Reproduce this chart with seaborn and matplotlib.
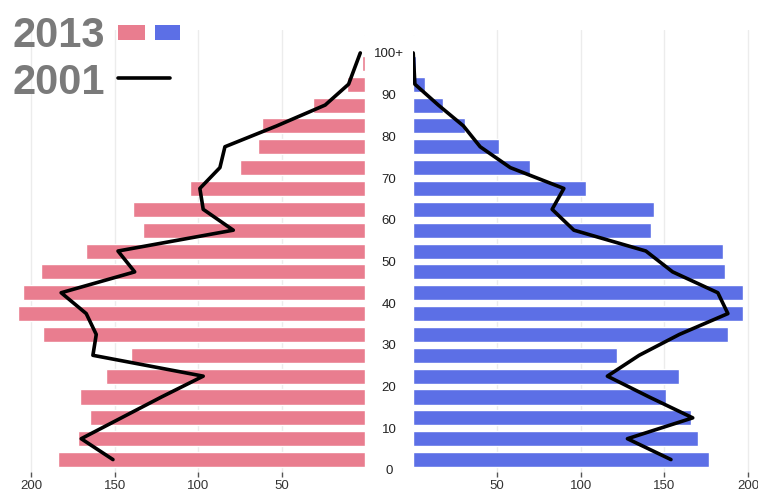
import matplotlib
matplotlib.use("Agg")
import matplotlib.pyplot as plt
from matplotlib.patches import Rectangle
from matplotlib.lines import Line2D
import seaborn as sns
import pandas as pd

# ---- data ----
age_groups = list(range(0, 101, 5))                      # 0-4 ... 100+
age_labels = ["0", "10", "20", "30", "40", "50", "60", "70", "80", "90", "100+"]
age_ticks = list(range(0, 101, 10))
female_2013 = [184, 172, 165, 171, 155, 140, 193, 208, 205, 194, 167,
               133, 139, 105, 75, 64, 62, 31, 11, 2, 1]
male_2013 = [177, 170, 166, 151, 159, 122, 188, 197, 197, 186, 185,
             142, 144, 103, 70, 51, 31, 18, 7, 1.5, 0.5]
line_ages = [2.5, 7.5, 12.5, 17.5, 22.5, 27.5, 32.5, 37.5, 42.5, 47.5,
             52.5, 57.5, 62.5, 67.5, 72.5, 77.5, 82.5, 87.5, 92.5, 100]
female_2001 = [151, 170, 146, 122, 97, 163, 161, 167, 182, 138, 148,
               79, 97, 99, 87, 84, 53, 24, 10, 3]
male_2001 = [154, 128, 167, 141, 116, 135, 159, 188, 182, 155, 139,
             96, 83, 90, 58, 40, 30, 15, 1, 0]
legend_years = ["2013", "2001"]

PINK = "#E97D8F"
BLUE = "#5C6FE6"

sns.set_style("white")
plt.rcParams["font.family"] = ["Liberation Sans", "DejaVu Sans"]

fig = plt.figure(figsize=(7.58, 4.93), dpi=100)
bottom, height = 0.0426, 0.8966
ax_l = fig.add_axes([0.0, bottom, 365.3 / 758, height])
ax_r = fig.add_axes([413.2 / 758, bottom, 1 - 413.2 / 758, height])

mids = [a + 2.5 for a in age_groups]
df = pd.DataFrame({"age": mids, "female": female_2013, "male": male_2013})
dl = pd.DataFrame({"age": line_ages, "female": female_2001, "male": male_2001})

for ax, col, color in [(ax_l, "female", PINK), (ax_r, "male", BLUE)]:
    sns.barplot(data=df, x=col, y="age", orient="h", native_scale=True,
                width=0.72, color=color, saturation=1, ax=ax, zorder=2)
    sns.lineplot(data=dl, x=col, y="age", sort=False, orient="y",
                 color="black", linewidth=2.6, ax=ax, zorder=3)
    ax.set_ylim(-0.48, 105.5)
    ax.set_xticks([50, 100, 150, 200])
    ax.set_xticklabels(["50", "100", "150", "200"])
    ax.grid(axis="x", color="#ececec", linewidth=1, zorder=0)
    ax.set_axisbelow(True)
    for s in ax.spines.values():
        s.set_visible(False)
    ax.set_xlabel("")
    ax.set_ylabel("")
    ax.tick_params(axis="x", bottom=True, length=3.6, width=1, color="#555555",
                   labelsize=9.5, labelcolor="#333333", pad=2.5)

ax_l.set_xlim(218.6, 0)
ax_l.set_yticks([])
ax_r.set_xlim(0, 206)
ax_r.set_yticks(age_ticks)
ax_r.set_yticklabels(age_labels)
ax_r.tick_params(axis="y", left=False, length=0, pad=17.3, labelsize=9.5,
                 labelcolor="#222222")
for lab in ax_r.get_yticklabels():
    lab.set_horizontalalignment("center")

# ---- legend ----
fig.text(12 / 758, 1 - 47 / 493, legend_years[0], fontsize=30, fontweight="bold",
         color="#7a7a7a", va="baseline", ha="left")
fig.text(12 / 758, 1 - 93.5 / 493, legend_years[1], fontsize=30, fontweight="bold",
         color="#7a7a7a", va="baseline", ha="left")
fig.add_artist(Rectangle((118 / 758, 1 - 40 / 493), 27 / 758, 15 / 493,
                         transform=fig.transFigure, color=PINK, lw=0))
fig.add_artist(Rectangle((155 / 758, 1 - 40 / 493), 25 / 758, 15 / 493,
                         transform=fig.transFigure, color=BLUE, lw=0))
fig.add_artist(Line2D([118 / 758, 170 / 758], [1 - 78 / 493, 1 - 78 / 493],
                      transform=fig.transFigure, color="black", linewidth=2.6))

fig.savefig("out.png", dpi=100)
